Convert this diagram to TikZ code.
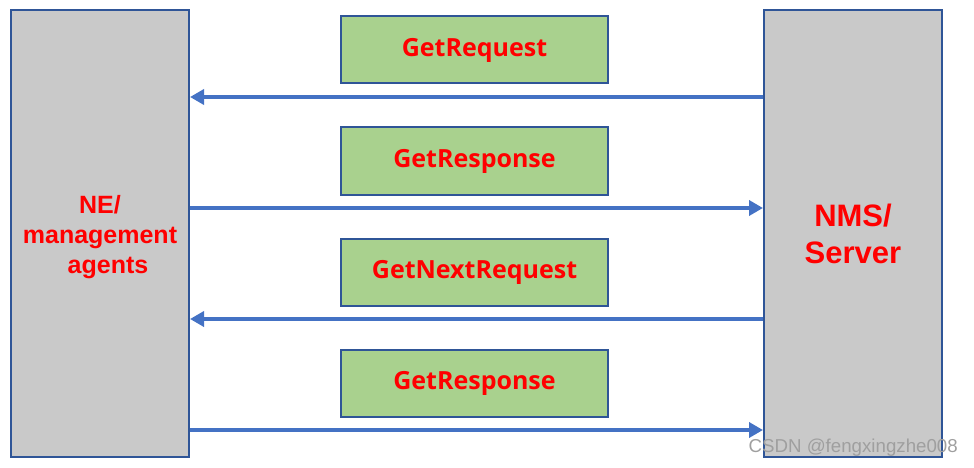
\documentclass[tikz,border=0pt]{standalone}
\usepackage{fontspec}
\setmainfont{Liberation Sans}
\newfontfamily\msgfont{Open Sans}
\usepackage{tikz}
\usetikzlibrary{arrows.meta,positioning}
\definecolor{BoxGray}{HTML}{C9C9C9}
\definecolor{EdgeBlue}{HTML}{2F5597}
\definecolor{ArrowBlue}{HTML}{4472C4}
\definecolor{MsgGreen}{HTML}{A9D18E}
\definecolor{MsgRed}{HTML}{FF0000}

\begin{document}
\begin{tikzpicture}[
  x=1pt, y=-1pt,
  >=Stealth,
  % ── the two endpoints (agent / manager) ──────────────────────────────────
  station/.style={
    draw=EdgeBlue, fill=BoxGray, line width=2pt,
    minimum width=178pt, minimum height=447pt,
    inner sep=0pt
  },
  stationtext/.style={align=center, inner sep=0pt, text=MsgRed},
  % ── message boxes ────────────────────────────────────────────────────────
  msg/.style={
    draw=EdgeBlue, fill=MsgGreen, line width=2pt,
    minimum width=267pt, minimum height=67pt,
    inner sep=0pt, text=MsgRed,
    font=\msgfont\bfseries\fontsize{25}{30}\selectfont
  },
  % ── arrows ───────────────────────────────────────────────────────────────
  arr/.style={-{Triangle[length=14pt,width=15pt]}, draw=ArrowBlue, line width=4pt},
]
\useasboundingbox (0,0) rectangle (974,468);

%% ── NE and NMS ──
\node[station] (NE)  at (100,233.5) {};
\node[station] (NMS) at (853,233.5) {};
\node[stationtext, font=\bfseries\fontsize{25}{30}\selectfont]
      (NEtxt) at ([yshift=-4pt]NE.center) {NE/\\management\\\hspace*{16pt}agents};
\node[stationtext, font=\bfseries\fontsize{31}{37}\selectfont]
      (NMStxt) at (NMS.center) {NMS/\\Server};

%% ── Message column (top to bottom) ──
\node[msg] (REQ)   at (474.5,50) {GetRequest};
\node[msg] (RSP)   [below=42pt of REQ]  {GetResponse};
\node[msg] (NXT)   [below=42pt of RSP]  {GetNextRequest};
\node[msg] (RSPB)  [below=42pt of NXT]  {GetResponse};

%% ── Arrow heights ──
\coordinate (r1) at (0,97);
\coordinate (r2) at (0,208);
\coordinate (r3) at (0,319);
\coordinate (r4) at (0,430);

\draw[arr] (NMS.west |- r1) -- (NE.east |- r1);
\draw[arr] (NE.east |- r2)  -- (NMS.west |- r2);
\draw[arr] (NMS.west |- r3) -- (NE.east |- r3);
\draw[arr] (NE.east |- r4)  -- (NMS.west |- r4);

%% ── watermark ──
\node[text=gray!75, font=\fontsize{18.7}{22}\selectfont, anchor=east, inner sep=0pt]
      (WM) at (958,448) {CSDN @fengxingzhe008};

\end{tikzpicture}
\end{document}
